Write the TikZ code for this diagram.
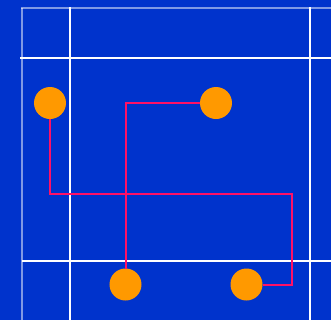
\documentclass[tikz,border=0pt]{standalone}
\definecolor{bg}{HTML}{0033CC}
\definecolor{dot}{HTML}{FF9900}
\definecolor{wire}{HTML}{FF1166}
\begin{document}
\begin{tikzpicture}[x=1bp,y=-1bp,
  grid/.style={draw=white,line width=2bp},
  faint/.style={draw=white,opacity=0.5,line width=2bp},
  dotnode/.style={circle,fill=dot,minimum size=32bp,inner sep=0pt,outer sep=0pt},
  wireline/.style={draw=wire,line width=2bp}]
\fill[bg] (0,0) rectangle (331,320);
\useasboundingbox (0,0) rectangle (331,320);
% faint border lines
\draw[faint] (21,7.5) -- (331,7.5);
\draw[faint] (22,7.5) -- (22,320);
% grid lines
\draw[grid] (20,58) -- (331,58);
\draw[grid] (22,261) -- (331,261);
\draw[grid] (70,7) -- (70,320);
\draw[grid] (310,7) -- (310,320);
% nodes
\node[dotnode] (a) at (50,103) {};
\node[dotnode] (b) at (216,103) {};
\node[dotnode] (c) at (125.5,284.5) {};
\node[dotnode] (d) at (246.5,284.5) {};
% bend points
\coordinate (c1) at (50,193.5);
\coordinate (c2) at (291.5,193.5);
\coordinate (c3) at (291.5,284.5);
\coordinate (c4) at (125.5,103);
% wires
\draw[wireline] (a) -- (c1) -- (c2) -- (c3) -- (d);
\draw[wireline] (b) -- (c4) -- (c);
\end{tikzpicture}
\end{document}
